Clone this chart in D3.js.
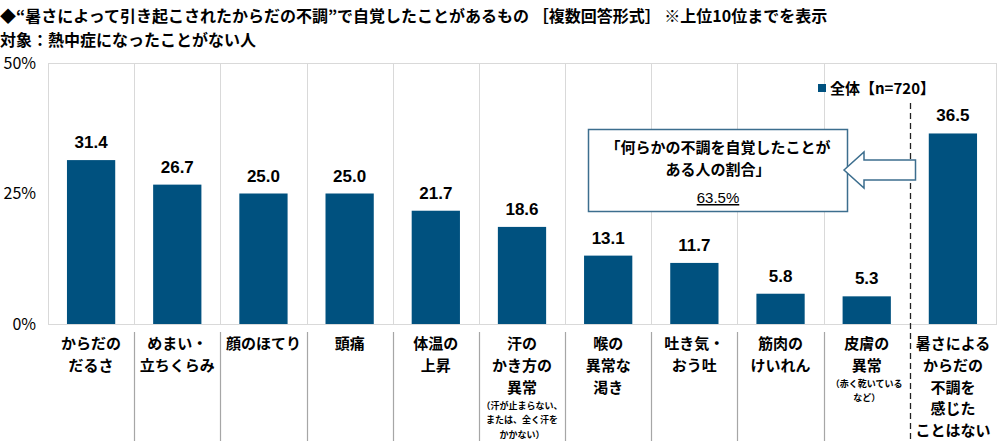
<!DOCTYPE html>
<html><head><meta charset="utf-8">
<script src="https://cdn.jsdelivr.net/npm/d3@7/dist/d3.min.js"></script>
<style>
body{margin:0;background:#fff;}
svg{display:block;}
text{font-family:"Noto Sans CJK JP","Noto Sans",sans-serif;}
.num{font-family:"Liberation Sans",Arial,sans-serif;}
</style></head>
<body><svg id="c" width="1000" height="441"></svg>
<script>
const titleLine1 = "◆“暑さによって引き起こされたからだの不調”で自覚したことがあるもの ［複数回答形式］ ※上位10位までを表示";
const titleLine2 = "対象：熱中症になったことがない人";
const categories = ["からだのだるさ","めまい・立ちくらみ","顔のほてり","頭痛","体温の上昇","汗のかき方の異常","喉の異常な渇き","吐き気・おう吐","筋肉のけいれん","皮膚の異常","暑さによるからだの不調を感じたことはない"];
const labelLines = [["からだの","だるさ"],["めまい・","立ちくらみ"],["顔のほてり"],["頭痛"],["体温の","上昇"],["汗の","かき方の","異常"],["喉の","異常な","渇き"],["吐き気・","おう吐"],["筋肉の","けいれん"],["皮膚の","異常"],["暑さによる","からだの","不調を","感じた","ことはない"]];
const noteLines = [[],[],[],[],[],["（汗が止まらない、","または、全く汗を","かかない）"],[],[],[],["（赤く乾いている","など）"],[]];
const values = [31.4,26.7,25.0,25.0,21.7,18.6,13.1,11.7,5.8,5.3,36.5];
const yTicks = [0,25,50];
const legendLabel = "全体【n=720】";
const calloutLines = ["「何らかの不調を自覚したことが","ある人の割合」"];
const calloutValue = "63.5%";

(function(){
const svg = d3.select("#c");
const barColor = "#00517f";
const pL = 48, pR = 996, pT = 63, pB = 324;
const x = d3.scaleBand().domain(categories).range([pL,pR]).paddingInner(0.44).paddingOuter(0.22);
const y = d3.scaleLinear().domain([0,50]).range([pB,pT]);
const step = x.step();
const bandStart = i => pL + i*step;

// title
svg.append("text").attr("x",0).attr("y",22).attr("font-size",16).attr("font-weight",700).attr("fill","#000").text(titleLine1);
svg.append("text").attr("x",0).attr("y",46).attr("font-size",16).attr("font-weight",700).attr("fill","#000").text(titleLine2);

// plot frame & vertical gridlines
const g = svg.append("g");
g.append("rect").attr("x",pL+0.5).attr("y",pT+0.5).attr("width",pR-pL).attr("height",pB-pT)
  .attr("fill","none").attr("stroke","#d9d9d9").attr("stroke-width",1);
categories.forEach((c,i)=>{
  if(i===0) return;
  if(i===categories.length-1) return;
  const bx = Math.round(bandStart(i))+0.5;
  g.append("line").attr("x1",bx).attr("x2",bx).attr("y1",pT).attr("y2",pB).attr("stroke","#d9d9d9");
  g.append("line").attr("x1",bx).attr("x2",bx).attr("y1",332).attr("y2",441).attr("stroke","#a6a6a6").attr("stroke-width",1.2);
});

// y axis tick labels
const yAxis = d3.axisLeft(y).tickValues(yTicks).tickSize(0).tickPadding(12).tickFormat(d=>d+"%");
const ya = svg.append("g").attr("transform",`translate(${pL},0)`).call(yAxis);
ya.select(".domain").remove();
ya.selectAll("text").attr("font-size",16).attr("fill","#000").attr("font-family","'Liberation Sans',Arial,sans-serif");

// bars
svg.append("g").selectAll("rect").data(values).join("rect")
  .attr("x",(d,i)=>x(categories[i])).attr("width",x.bandwidth())
  .attr("y",d=>y(d)).attr("height",d=>pB-y(d)).attr("fill",barColor);

// value labels
svg.append("g").selectAll("text").data(values).join("text")
  .attr("class","num")
  .attr("x",(d,i)=>x(categories[i])+x.bandwidth()/2).attr("y",d=>y(d)-12)
  .attr("text-anchor","middle").attr("font-size",17).attr("font-weight",700).attr("fill","#000")
  .text(d=>d.toFixed(1));

// category labels
const lh = 21.8;
categories.forEach((c,i)=>{
  const cx = bandStart(i)+step/2;
  labelLines[i].forEach((l,j)=>{
    svg.append("text").attr("text-anchor","middle").attr("font-size",15).attr("font-weight",700).attr("fill","#000")
      .attr("x",cx).attr("y",349+j*lh).text(l);
  });
  const base = 349+(labelLines[i].length-1)*lh;
  noteLines[i].forEach((l,j)=>{
    svg.append("text").attr("text-anchor","middle").attr("font-size",9).attr("font-weight",700).attr("fill","#000")
      .attr("x",cx).attr("y",base+16+j*14.5).text(l);
  });
});

// dashed separator before last category
const dx = Math.round(bandStart(categories.length-1))+0.5;
svg.append("line").attr("x1",dx).attr("x2",dx).attr("y1",103).attr("y2",441)
  .attr("stroke","#222").attr("stroke-width",1.3).attr("stroke-dasharray","6,4");

// legend
svg.append("rect").attr("x",818).attr("y",84).attr("width",8).attr("height",8).attr("fill",barColor);
svg.append("text").attr("x",830).attr("y",94).attr("font-size",15).attr("font-weight",700).attr("fill","#000").text(legendLabel);

// callout box
const boxColor = "#3c6e8e";
svg.append("rect").attr("x",588.5).attr("y",129.5).attr("width",259).attr("height",82)
  .attr("fill","#fff").attr("stroke",boxColor).attr("stroke-width",1.5);
calloutLines.forEach((l,j)=>{
  svg.append("text").attr("x",718).attr("y",153+j*22).attr("text-anchor","middle")
    .attr("font-size",15).attr("font-weight",700).attr("fill","#000").text(l);
});
svg.append("text").attr("class","num").attr("x",718).attr("y",203).attr("text-anchor","middle")
  .attr("font-size",15).attr("fill","#000").attr("text-decoration","underline").text(calloutValue);

// arrow
const ay = 170, tipX = 844, headX = 864, endX = dx+5;
const arrowPts = [[tipX,ay],[headX,ay-18],[headX,ay-10],[endX,ay-10],[endX,ay+10],[headX,ay+10],[headX,ay+18]];
svg.append("polygon").attr("points",arrowPts.map(p=>p.join(",")).join(" "))
  .attr("fill","#fff").attr("stroke",boxColor).attr("stroke-width",1.5).attr("stroke-linejoin","miter");
})();
</script></body></html>
